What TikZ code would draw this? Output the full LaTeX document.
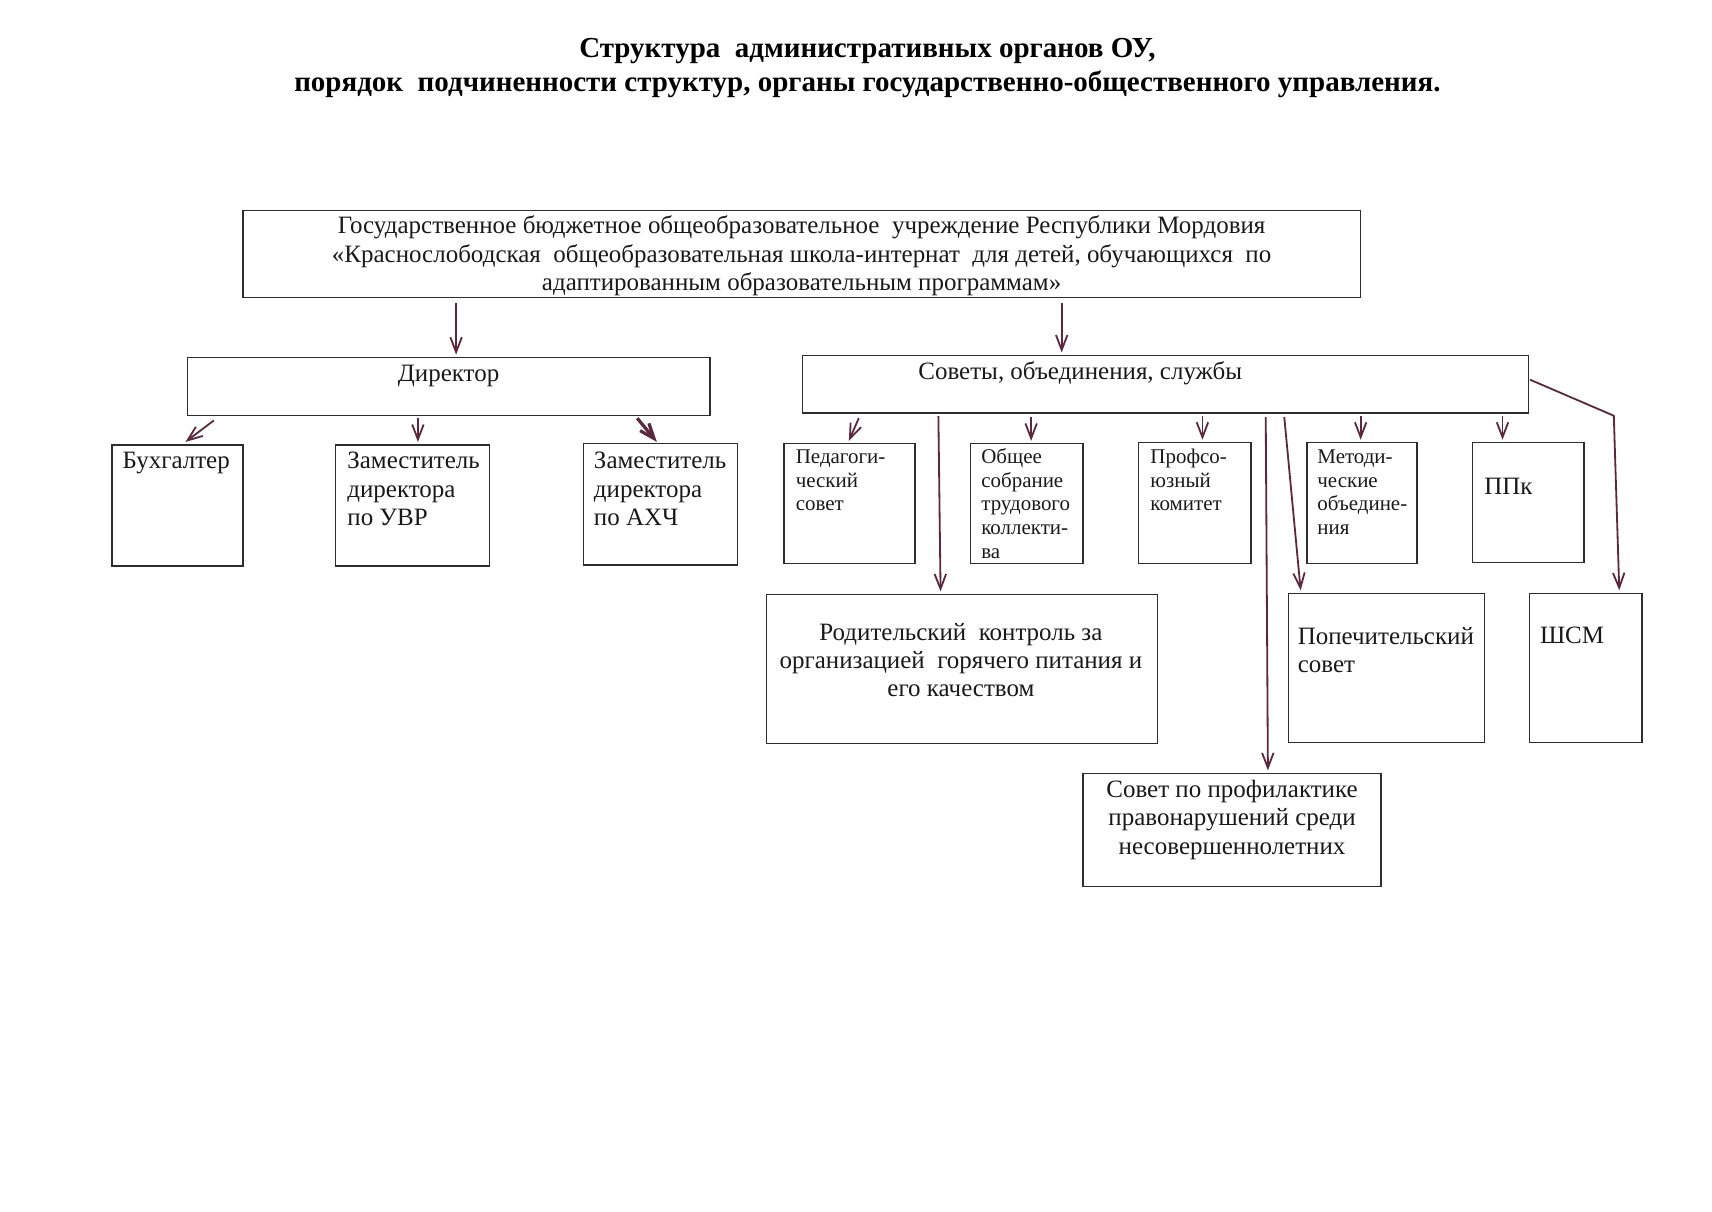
\documentclass[tikz,border=0pt]{standalone}
\usepackage{fontspec}
\setmainfont{Liberation Serif}
\usetikzlibrary{calc,arrows.meta}
\definecolor{arrcol}{RGB}{92,40,62}
\definecolor{boxcol}{RGB}{45,45,45}
\newcommand\U{0.19038mm}
\newcommand\bx[5]{\node[box, minimum width={#4*\U}, minimum height={#5*\U}] (#1) at (#2,#3) {};}
\begin{document}
\begin{tikzpicture}[x=\U, y=-\U,
  box/.style={draw=boxcol, line width=0.7pt, inner sep=0pt, anchor=north west},
  big/.style={font=\fontsize{12.4}{14.1}\selectfont, inner sep=0pt, align=left, text=black!90},
  bigc/.style={big, align=center, anchor=north},
  small/.style={font=\fontsize{10.4}{11.8}\selectfont, inner sep=0pt, align=left, text=black!90, anchor=north west},
  arr/.style={draw=arrcol, line width=0.9pt, -{Straight Barb[length=2.6mm,width=2mm]}},
]
\useasboundingbox (0,0) rectangle (1569,1110);

% title
\node[font=\fontsize{14.4}{17}\selectfont\bfseries, align=center, anchor=north, inner sep=0pt] (title) at (795,30)
  {\strut Структура\ \ административных органов ОУ,\\порядок\ \ подчиненности структур, органы государственно-общественного управления.};

% boxes
\bx{top}{222}{192}{1024}{80}
\bx{dir}{171}{327}{479}{53}
\bx{sov}{735}{325}{665}{53}
\bx{buh}{102}{407}{120}{111}
\bx{uvr}{307}{407}{141}{111}
\bx{ahch}{534}{406}{141}{111}
\bx{ped}{718}{406}{120}{110}
\bx{obsh}{889}{406}{103}{110}
\bx{prof}{1043}{405}{103}{111}
\bx{met}{1197}{405}{101}{111}
\bx{ppk}{1349}{405}{102}{110}
\bx{rod}{702}{544}{358}{137}
\bx{pop}{1180}{543}{180}{137}
\bx{shsm}{1401}{543}{103}{137}
\bx{prav}{992}{708}{273}{104}

% texts
\node[bigc] (topT) at ($(top.north)+(0,3.5)$)
  {\strut Государственное бюджетное общеобразовательное\ \ учреждение Республики Мордовия\\
   «Краснослободская\ \ общеобразовательная школа-интернат\ \ для детей, обучающихся\ \ по\\
   адаптированным образовательным программам»};
\node[bigc] (dirT) at ($(dir.north)+(0,4)$) {\strut Директор};
\node[bigc] (sovT) at ($(sov.north west)+(255,4)$) {\strut Советы, объединения, службы};
\node[big, anchor=north west] (buhT) at ($(buh.north west)+(10,4)$) {\strut Бухгалтер};
\node[big, anchor=north west] (uvrT) at ($(uvr.north west)+(11,4)$) {\strut Заместитель\\директора\\по УВР};
\node[big, anchor=north west] (ahchT) at ($(ahch.north west)+(10,5)$) {\strut Заместитель\\директора\\по АХЧ};
\node[small] (pedT) at ($(ped.north west)+(11,3)$) {\strut Педагоги-\\ческий\\совет};
\node[small] (obshT) at ($(obsh.north west)+(10,3)$) {\strut Общее\\собрание\\трудового\\коллекти-\\ва};
\node[small] (profT) at ($(prof.north west)+(11,4)$) {\strut Профсо-\\юзный\\комитет};
\node[small] (metT) at ($(met.north west)+(10,4)$) {\strut Методи-\\ческие\\объедине-\\ния};
\node[big, anchor=north west] (ppkT) at ($(ppk.north west)+(11,30)$) {\strut ППк};
\node[bigc] (rodT) at ($(rod.north)+(-1,24)$) {\strut Родительский\ \ контроль за\\организацией\ \ горячего питания и\\его качеством};
\node[big, anchor=north west] (popT) at ($(pop.north west)+(9,29)$) {\strut Попечительский\\совет};
\node[big, anchor=north west] (shsmT) at ($(shsm.north west)+(10,28)$) {\strut ШСМ};
\node[bigc] (pravT) at ($(prav.north)+(0,4)$) {\strut Совет по профилактике\\правонарушений среди\\несовершеннолетних};

% arrows
\draw[arr] ($(top.south west)+(196,4)$) -- ($(dir.north west)+(247,-2)$);
\draw[arr] ($(top.south west)+(751,4)$) -- ($(sov.north west)+(238,-2)$);
\draw[arr] ($(dir.south west)+(25,4)$) -- ($(buh.north west)+(68,-2)$);
\draw[arr] ($(dir.south west)+(212,2)$) -- ($(uvr.north west)+(76,-2)$);
\draw[arr, line width=1.6pt] ($(dir.south west)+(413,2)$) -- ($(ahch.north west)+(68,-1)$);
\draw[arr] ($(sov.south west)+(52,4)$) -- ($(ped.north west)+(60,-2)$);
\draw[arr] ($(sov.south west)+(125,2)$) -- ($(rod.north west)+(160,-2)$);
\draw[arr] ($(sov.south west)+(210,3)$) -- ($(obsh.north west)+(56,-2)$);
\draw[arr] ($(sov.south west)+(367,2)$) -- ($(prof.north west)+(59,-2)$);
\draw[arr] ($(sov.south west)+(425,3)$) -- ($(prav.north west)+(170,-2)$);
\draw[arr] ($(sov.south west)+(442,3)$) -- ($(pop.north west)+(12,-2)$);
\draw[arr] ($(sov.south west)+(512,2)$) -- ($(met.north west)+(50,-2)$);
\draw[arr] ($(sov.south west)+(642,2)$) -- ($(ppk.north west)+(28,-2)$);
\coordinate (shbend) at ($(shsm.north west)+(78,-162)$);
\draw[arr] ($(sov.north east)+(1,23)$) -- (shbend) -- ($(shsm.north west)+(83,-2)$);
\end{tikzpicture}
\end{document}
